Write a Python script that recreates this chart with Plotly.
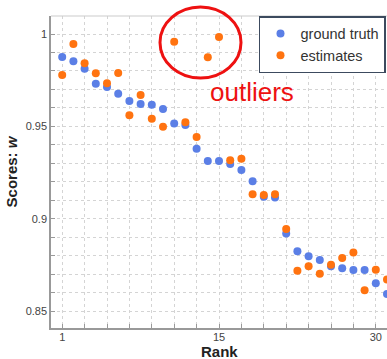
import plotly.graph_objects as go

ranks = list(range(1, 31))
ground_truth = [0.9875, 0.9852, 0.9812, 0.9731, 0.9713, 0.9677, 0.9637, 0.9621, 0.9617, 0.9594,
                0.9516, 0.9507, 0.9379, 0.9312, 0.9312, 0.9296, 0.9263, 0.9202, 0.9119, 0.9114,
                0.8920, 0.8823, 0.8796, 0.8776, 0.8743, 0.8732, 0.8722, 0.8722, 0.8650, 0.8592]
estimates = [0.9778, 0.9946, 0.9841, 0.9787, 0.9733, 0.9789, 0.9560, 0.9670, 0.9541, 0.9498,
             0.9958, 0.9522, 0.9442, 0.9874, 0.9984, 0.9316, 0.9325, 0.9132, 0.9128, 0.9132,
             0.8944, 0.8718, 0.8743, 0.8702, 0.8750, 0.8787, 0.8817, 0.8613, 0.8724, 0.8671]
x_tickvals = [1, 15, 29]
x_ticktext = ["1", "15", "30"]
y_tickvals = [0.85, 0.9, 0.95, 1.0]
y_ticktext = ["0.85", "0.9", "0.95", "1"]

FONT = "Liberation Sans, Arial, Helvetica, sans-serif"
BLUE = "#5B7FE6"
ORANGE = "#FF7310"
RED = "#EE1111"
GRID = "#d4d4d4"
AXIS = "#999999"

fig = go.Figure()
fig.add_trace(go.Scatter(x=ranks, y=ground_truth, mode="markers", name="ground truth",
                         marker=dict(color=BLUE, size=8, line=dict(width=0))))
fig.add_trace(go.Scatter(x=ranks, y=estimates, mode="markers", name="estimates",
                         marker=dict(color=ORANGE, size=8, line=dict(width=0))))

fig.update_layout(
    width=387, height=359, autosize=False,
    margin=dict(l=51, r=0, t=16, b=31, autoexpand=False),
    paper_bgcolor="white", plot_bgcolor="white",
    font=dict(family=FONT, color="#444444", size=11),
    showlegend=True,
    legend=dict(x=0.997, y=1.0, xanchor="right", yanchor="top",
                bgcolor="white", bordercolor="#3c4a5e", borderwidth=1.5,
                font=dict(size=14.5, color="#333333", family=FONT),
                itemwidth=30, tracegroupgap=0),
    xaxis=dict(range=[0, 30], tickmode="array", tickvals=x_tickvals, ticktext=x_ticktext,
               automargin=False, ticklabelstandoff=-2,
               showline=True, linecolor=AXIS, linewidth=1.5, ticks="inside", ticklen=4,
               tickcolor=AXIS, showgrid=True, gridcolor=GRID, griddash="dot", gridwidth=1,
               zeroline=False,
               minor=dict(tick0=1, dtick=2, ticks="inside", ticklen=4, tickcolor=AXIS,
                          showgrid=True, gridcolor=GRID, griddash="dot", gridwidth=1)),
    yaxis=dict(range=[0.8408, 1.00975], tickmode="array", tickvals=y_tickvals, ticktext=y_ticktext,
               automargin=False,
               showline=True, linecolor=AXIS, linewidth=1.5, ticks="inside", ticklen=4,
               tickcolor=AXIS, showgrid=True, gridcolor=GRID, griddash="dot", gridwidth=1,
               zeroline=False,
               minor=dict(tick0=0.85, dtick=0.01, ticks="inside", ticklen=4, tickcolor=AXIS,
                          showgrid=True, gridcolor=GRID, griddash="dot", gridwidth=1),
               title=dict(text="Scores: <i>w</i>", font=dict(size=15, color="#222222", family=FONT, weight="bold"),
                          standoff=4)),
    shapes=[
        dict(type="line", xref="paper", yref="paper", x0=0, x1=1, y0=1, y1=1,
             line=dict(color="#cccccc", width=1.2)),
        dict(type="circle", xref="paper", yref="paper", x0=0.3244, x1=0.5655, y0=0.8013, y1=1.0288,
             line=dict(color=RED, width=3)),
    ],
    annotations=[
        dict(text="outliers", xref="paper", yref="paper", x=0.5997, y=0.757,
             xanchor="center", yanchor="middle", showarrow=False,
             font=dict(size=26, color=RED, family=FONT)),
        dict(text="<b>Rank</b>", xref="paper", yref="paper", x=0.5, y=-0.0753,
             xanchor="center", yanchor="middle", showarrow=False,
             font=dict(size=15, color="#222222", family=FONT)),
    ],
)

fig.write_html("out.html", config={"displayModeBar": False},
               post_script="document.body.style.margin='0px';document.body.style.overflow='hidden';")
